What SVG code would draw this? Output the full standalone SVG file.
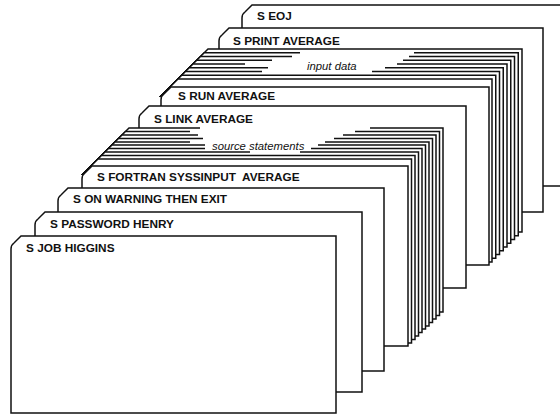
<svg xmlns="http://www.w3.org/2000/svg" width="560" height="416" viewBox="0 0 560 416">
<style>
.bg{fill:#fff}
.card{fill:#fff;stroke:#111;stroke-width:1.5;stroke-linejoin:miter}
.fill{fill:#fff;stroke:none}
.ln{fill:none;stroke:#111;stroke-width:1.5}
.t{font-family:"Liberation Sans",Arial,Helvetica,sans-serif;font-size:11.8px;font-weight:bold;fill:#111;white-space:pre}
.it{font-family:"Liberation Sans",Arial,Helvetica,sans-serif;font-size:11.3px;font-style:italic;fill:#111}
</style>
<rect class="bg" x="0" y="0" width="560" height="416"/>

<g id="card-eoj">
<path class="card" d="M242,186 V18 Q242,14 245,12 L252,5 H572 V186 Z"/>
<text class="t" x="257" y="20">S EOJ</text>
</g>

<g id="card-print">
<path class="card" d="M219,212 V41 Q219,37 222,35 L229,28 H543 V212 Z"/>
<text class="t" x="233" y="45">S PRINT AVERAGE</text>
</g>

<g id="input-data">
<g id="input-0"><path class="fill" d="M208,49 H522 V232 H160 V97 Z"/><path class="ln" d="M160,97 L208,49 H522 V232 H514"/></g>
<g id="input-1"><path class="fill" d="M204.25,52.75 H518.25 V235.75 H160 V97 Z"/><path class="ln" d="M160,97 L204.25,52.75 H300 M414,52.75 H518.25 V235.75 H510"/></g>
<g id="input-2"><path class="fill" d="M200.5,56.5 H514.5 V239.5 H160 V97 Z"/><path class="ln" d="M160,97 L200.5,56.5 H292 M409,56.5 H514.5 V239.5 H506"/></g>
<g id="input-3"><path class="fill" d="M196.75,60.25 H510.75 V243.25 H160 V97 Z"/><path class="ln" d="M160,97 L196.75,60.25 H272 M403,60.25 H510.75 V243.25 H503"/></g>
<g id="input-4"><path class="fill" d="M193,64 H507 V247 H160 V97 Z"/><path class="ln" d="M160,97 L193,64 H245 M397,64 H507 V247 H499"/></g>
<g id="input-5"><path class="fill" d="M189.25,67.75 H503.25 V250.75 H160 V97 Z"/><path class="ln" d="M160,97 L189.25,67.75 H268 M385,67.75 H503.25 V250.75 H495"/></g>
<g id="input-6"><path class="fill" d="M185.5,71.5 H499.5 V254.5 H160 V97 Z"/><path class="ln" d="M160,97 L185.5,71.5 H262 M372,71.5 H499.5 V254.5 H491"/></g>
<g id="input-7"><path class="fill" d="M181.75,75.25 H495.75 V258.25 H160 V97 Z"/><path class="ln" d="M160,97 L181.75,75.25 H495.75 V258.25 H488"/></g>
<g id="input-8"><path class="fill" d="M178,79 H492 V262 H160 V97 Z"/><path class="ln" d="M160,97 L178,79 H492 V262 H484"/></g>
<text class="it" x="307" y="70">input data</text>
</g>

<g id="card-run">
<path class="card" d="M161,265 V100 Q161,96 164,94 L171,87 H489 V265 Z"/>
<text class="t" x="178" y="100">S RUN AVERAGE</text>
</g>

<g id="card-link">
<path class="card" d="M139,288 V119 Q139,115 142,113 L149,106 H466 V288 Z"/>
<text class="t" x="154" y="123">S LINK AVERAGE</text>
</g>

<g id="source-statements">
<g id="src-0"><path class="fill" d="M129,128 H443 V312 H82 V175 Z"/><path class="ln" d="M82,175 L129,128 H200 M370,128 H443 V312 H435"/></g>
<g id="src-1"><path class="fill" d="M125.5,131.5 H439.5 V315.5 H82 V175 Z"/><path class="ln" d="M82,175 L125.5,131.5 H190 M355,131.5 H439.5 V315.5 H432"/></g>
<g id="src-2"><path class="fill" d="M122,135 H436 V319 H82 V175 Z"/><path class="ln" d="M82,175 L122,135 H198 M343,135 H436 V319 H428"/></g>
<g id="src-3"><path class="fill" d="M118.5,138.5 H432.5 V322.5 H82 V175 Z"/><path class="ln" d="M82,175 L118.5,138.5 H203 M334,138.5 H432.5 V322.5 H425"/></g>
<g id="src-4"><path class="fill" d="M115,142 H429 V326 H82 V175 Z"/><path class="ln" d="M82,175 L115,142 H190 M325,142 H429 V326 H421"/></g>
<g id="src-5"><path class="fill" d="M112,145 H425.5 V329 H82 V175 Z"/><path class="ln" d="M82,175 L112,145 H205 M318,145 H425.5 V329 H418"/></g>
<g id="src-6"><path class="fill" d="M108.5,148.5 H422 V332.5 H82 V175 Z"/><path class="ln" d="M82,175 L108.5,148.5 H205 M311,148.5 H422 V332.5 H414"/></g>
<g id="src-7"><path class="fill" d="M105,152 H418.5 V336 H82 V175 Z"/><path class="ln" d="M82,175 L105,152 H250 M300,152 H418.5 V336 H411"/></g>
<g id="src-8"><path class="fill" d="M101.5,155.5 H415 V339.5 H82 V175 Z"/><path class="ln" d="M82,175 L101.5,155.5 H415 V339.5 H407"/></g>
<g id="src-9"><path class="fill" d="M98,159 H411.5 V343 H82 V175 Z"/><path class="ln" d="M82,175 L98,159 H411.5 V343 H404"/></g>
<text class="it" x="212" y="150">source statements</text>
</g>

<g id="card-fortran">
<path class="card" d="M82,346 V179 Q82,175 85,173 L92,166 H408 V346 Z"/>
<text class="t" x="97" y="181">S FORTRAN SYSSINPUT  AVERAGE</text>
</g>

<g id="card-onwarning">
<path class="card" d="M58,371 V201 Q58,197 61,195 L68,188 H384 V371 Z"/>
<text class="t" x="73" y="203">S ON WARNING THEN EXIT</text>
</g>

<g id="card-password">
<path class="card" d="M35,392 V225 Q35,221 38,219 L45,212 H362 V392 Z"/>
<text class="t" x="50" y="228">S PASSWORD HENRY</text>
</g>

<g id="card-job">
<path class="card" d="M11,413 V249 Q11,245 14,243 L21,236 H336 V413 Z"/>
<text class="t" x="26" y="252">S JOB HIGGINS</text>
</g>

<g id="connectors"></g>
</svg>
